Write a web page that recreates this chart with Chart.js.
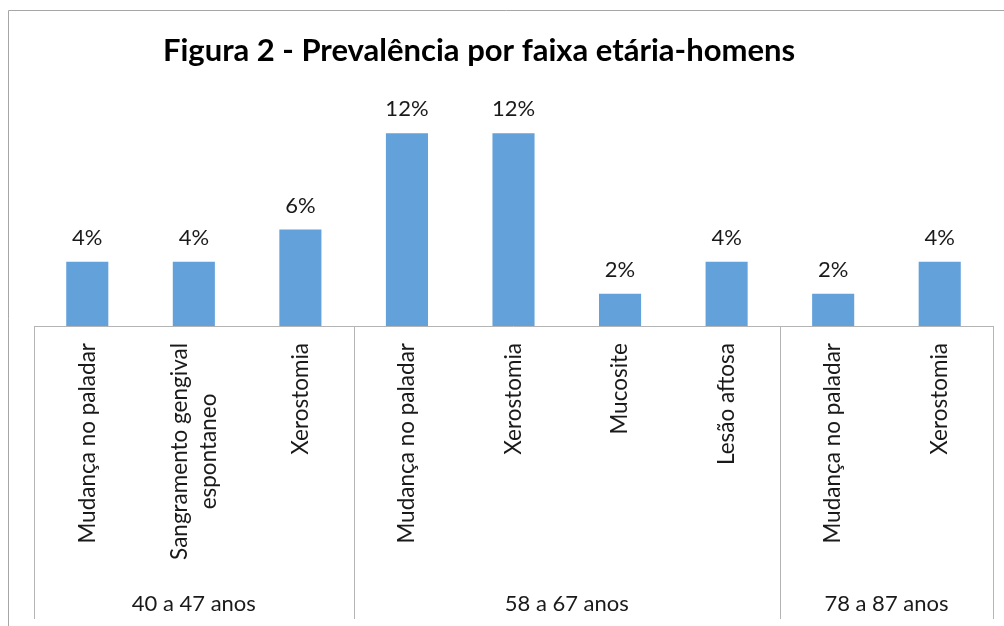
<!DOCTYPE html>
<html>
<head>
<meta charset="utf-8">
<script src="https://cdn.jsdelivr.net/npm/chart.js@4/dist/chart.umd.min.js"></script>
<style>
  html, body { margin: 0; padding: 0; background: #fff; }
  canvas { display: block; }
</style>
</head>
<body>
<canvas id="grafico" width="1004" height="626"></canvas>
<script>
// dados
const categorias = [
    'Mudança no paladar', ['Sangramento gengival', 'espontaneo'], 'Xerostomia',
    'Mudança no paladar', 'Xerostomia', 'Mucosite', 'Lesão aftosa',
    'Mudança no paladar', 'Xerostomia',
];
const valores = [4, 4, 6, 12, 12, 2, 4, 2, 4];
const faixas = ['40 a 47 anos', '58 a 67 anos', '78 a 87 anos'];
const tamanhoFaixa = [3, 4, 2];
const titulo = 'Figura 2 - Prevalência por faixa etária-homens';

const FONTE = 'Lato, "Open Sans", sans-serif';
const corTexto = '#1a1a1a';
const corLinha = '#b4b4b4';

// eixo em dois níveis, rótulos e título desenhados à mão (estilo Excel)
const moldura = {
    id: 'moldura',
    beforeDraw(chart) {
        const { ctx, width, height } = chart;
        ctx.save();
        ctx.fillStyle = '#fff';
        ctx.fillRect(0, 0, width, height);
        ctx.strokeStyle = '#a6a6a6';
        ctx.lineWidth = 1;
        ctx.beginPath();
        ctx.moveTo(8.5, height);
        ctx.lineTo(8.5, 10.5);
        ctx.lineTo(width, 10.5);
        ctx.stroke();
        ctx.restore();
    },
    afterDatasetsDraw(chart) {
        const { ctx } = chart;
        const meta = chart.getDatasetMeta(0);
        ctx.save();
        ctx.font = `22px ${FONTE}`;
        ctx.fillStyle = corTexto;
        ctx.textAlign = 'center';
        ctx.textBaseline = 'alphabetic';
        meta.data.forEach((bar, i) => {
            ctx.fillText(valores[i] + '%', bar.x, bar.y - 17);
        });
        ctx.restore();
    },
    afterDraw(chart) {
        const { ctx, chartArea: area } = chart;
        const x = chart.scales.x;
        const fundo = 619;
        ctx.save();

        // linha do eixo
        ctx.strokeStyle = corLinha;
        ctx.lineWidth = 1;
        ctx.beginPath();
        ctx.moveTo(area.left, Math.round(area.bottom) + 0.5);
        ctx.lineTo(area.right, Math.round(area.bottom) + 0.5);
        ctx.stroke();

        // separadores das faixas etárias
        const meio = (a, b) => (a + b) / 2;
        const borda = (i) => i === 0 ? area.left
            : i === categorias.length ? area.right
            : meio(x.getPixelForValue(i - 1), x.getPixelForValue(i));
        let ini = 0;
        const limites = [0];
        tamanhoFaixa.forEach((n) => { ini += n; limites.push(ini); });
        ctx.beginPath();
        limites.forEach((k) => {
            const px = Math.round(borda(k)) + 0.5;
            ctx.moveTo(px, area.bottom);
            ctx.lineTo(px, fundo);
        });
        ctx.stroke();

        // rótulos das categorias (rotacionados)
        ctx.fillStyle = corTexto;
        ctx.font = `22.5px ${FONTE}`;
        ctx.textBaseline = 'middle';
        ctx.textAlign = 'center';
        const alturaLinha = 29;
        categorias.forEach((lab, i) => {
            const linhas = Array.isArray(lab) ? lab : [lab];
            const larg = Math.max(...linhas.map((l) => ctx.measureText(l).width));
            ctx.save();
            ctx.translate(x.getPixelForValue(i), area.bottom + 17);
            ctx.rotate(-Math.PI / 2);
            linhas.forEach((l, j) => {
                const dy = (j - (linhas.length - 1) / 2) * alturaLinha;
                ctx.fillText(l, -larg / 2, dy);
            });
            ctx.restore();
        });

        // rótulos das faixas
        ctx.font = `22px ${FONTE}`;
        ctx.textBaseline = 'alphabetic';
        faixas.forEach((f, g) => {
            ctx.fillText(f, meio(borda(limites[g]), borda(limites[g + 1])), 611);
        });

        // título
        ctx.font = `bold 31px ${FONTE}`;
        ctx.fillStyle = '#000';
        ctx.fillText(titulo, 479, 61);
        ctx.restore();
    },
};

new Chart(document.getElementById('grafico'), {
    type: 'bar',
    data: {
        labels: categorias,
        datasets: [{
            data: valores,
            backgroundColor: '#63a1da',
            borderWidth: 0,
            barPercentage: 0.395,
            categoryPercentage: 1,
        }],
    },
    options: {
        responsive: false,
        animation: false,
        devicePixelRatio: 1,
        layout: { padding: { left: 34, right: 11, top: 101, bottom: 300 } },
        plugins: {
            legend: { display: false },
            tooltip: { enabled: false },
            title: { display: false },
        },
        scales: {
            x: { display: false },
            y: { display: false, min: 0, max: 14 },
        },
    },
    plugins: [moldura],
});
</script>
</body>
</html>
